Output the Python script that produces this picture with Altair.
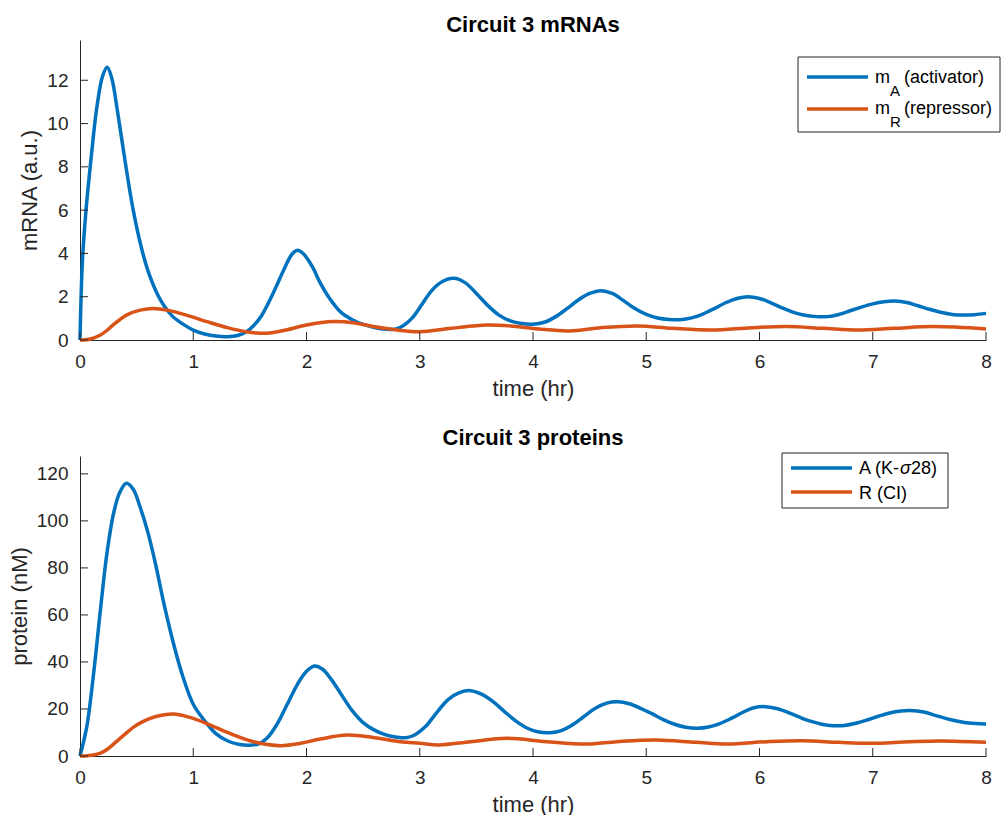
import altair as alt
import pandas as pd

# ---------------- data ----------------
mA_t = [0, 0.02, 0.05, 0.1, 0.15, 0.2, 0.24, 0.28, 0.33, 0.4, 0.47, 0.55, 0.62, 0.71, 0.82,
        0.92, 1.0, 1.1, 1.2, 1.3, 1.4, 1.47, 1.53, 1.6, 1.7, 1.8, 1.87, 1.92, 1.97, 2.05,
        2.12, 2.2, 2.3, 2.4, 2.5, 2.6, 2.7, 2.78, 2.85, 2.93, 3.02, 3.1, 3.2, 3.3, 3.4,
        3.5, 3.6, 3.7, 3.8, 3.9, 4.0, 4.1, 4.2, 4.3, 4.4, 4.5, 4.6, 4.7, 4.8, 4.9,
        5.0, 5.1, 5.2, 5.3, 5.4, 5.5, 5.6, 5.7, 5.8, 5.9, 6.0, 6.1, 6.2, 6.3, 6.4,
        6.5, 6.6, 6.7, 6.8, 6.9, 7.0, 7.1, 7.2, 7.3, 7.4, 7.5, 7.6, 7.7, 7.8, 7.9, 8.0]
mA_v = [0, 3.5, 5.8, 8.5, 10.8, 12.2, 12.6, 12.1, 10.6, 8.2, 6.0, 4.1, 2.9, 1.85, 1.08,
        0.7, 0.46, 0.28, 0.18, 0.15, 0.22, 0.38, 0.65, 1.1, 2.1, 3.25, 3.95, 4.15, 4.0, 3.4,
        2.65, 1.95, 1.3, 0.95, 0.72, 0.58, 0.5, 0.5, 0.65, 1.0, 1.65, 2.25, 2.7, 2.85, 2.65,
        2.15, 1.6, 1.15, 0.88, 0.76, 0.73, 0.82, 1.08, 1.45, 1.85, 2.15, 2.28, 2.15, 1.82, 1.45,
        1.18, 1.02, 0.95, 0.94, 1.02, 1.2, 1.45, 1.72, 1.92, 2.0, 1.92, 1.72, 1.48, 1.28, 1.14,
        1.08, 1.08, 1.18, 1.35, 1.52, 1.67, 1.77, 1.8, 1.73, 1.58, 1.42, 1.28, 1.18, 1.15, 1.17, 1.23]

mR_t = [0, 0.05, 0.1, 0.18, 0.24, 0.29, 0.35, 0.41, 0.53, 0.65, 0.77, 0.94, 1.12, 1.3, 1.47,
        1.65, 1.82, 2.0, 2.24, 2.41, 2.59, 2.8, 3.0, 3.28, 3.59, 3.8, 4.05, 4.32, 4.6, 4.92,
        5.23, 5.58, 5.93, 6.24, 6.56, 6.87, 7.19, 7.54, 8.0]
mR_v = [0, 0.01, 0.06, 0.23, 0.45, 0.69, 0.93, 1.15, 1.38, 1.46, 1.38, 1.15, 0.85, 0.57, 0.38,
        0.31, 0.46, 0.69, 0.85, 0.8, 0.62, 0.46, 0.38, 0.54, 0.69, 0.65, 0.51, 0.42, 0.57, 0.65,
        0.54, 0.46, 0.57, 0.62, 0.54, 0.46, 0.54, 0.62, 0.51]

A_t = [0, 0.06, 0.12, 0.18, 0.24, 0.3, 0.35, 0.41, 0.47, 0.53, 0.6, 0.67, 0.74, 0.83, 0.91,
       1.0, 1.1, 1.2, 1.3, 1.4, 1.5, 1.58, 1.65, 1.74, 1.83, 1.92, 2.0, 2.07, 2.14, 2.22,
       2.3, 2.4, 2.5, 2.6, 2.7, 2.8, 2.88, 2.95, 3.05, 3.15, 3.25, 3.35, 3.45, 3.55, 3.65,
       3.75, 3.85, 3.95, 4.05, 4.15, 4.25, 4.35, 4.45, 4.55, 4.65, 4.75, 4.85, 4.95, 5.05, 5.15,
       5.25, 5.35, 5.45, 5.55, 5.65, 5.75, 5.85, 5.95, 6.05, 6.15, 6.25, 6.35, 6.45, 6.55, 6.65,
       6.75, 6.85, 6.95, 7.05, 7.15, 7.25, 7.33, 7.45, 7.55, 7.65, 7.75, 7.85, 8.0]
A_v = [0, 12.5, 35, 62, 87, 104, 112, 116, 113.5, 106, 95, 81, 65, 47, 33.5,
       22, 15, 9.5, 6.5, 5.0, 4.6, 5.2, 7.5, 13.5, 22, 30.5, 36, 38.3, 37, 32.5,
       26.7, 19.5, 14.2, 11, 9, 8, 7.8, 8.8, 12.5, 18.5, 24, 27, 27.8, 26.2, 23,
       18.8, 14.8, 11.8, 10.2, 9.9, 10.8, 13.3, 16.8, 20.3, 22.5, 23.1, 22.2, 20.3, 18, 15.5,
       13.5, 12.2, 11.8, 12.3, 13.8, 16, 18.5, 20.5, 21, 20.2, 18.6, 16.6, 14.8, 13.5, 12.9,
       13, 13.9, 15.3, 16.9, 18.3, 19.1, 19.3, 18.7, 17.3, 15.9, 14.8, 14.0, 13.6]

R_t = [0, 0.05, 0.1, 0.18, 0.25, 0.32, 0.4, 0.47, 0.55, 0.62, 0.72, 0.83, 1.0, 1.18, 1.36,
       1.53, 1.77, 1.95, 2.12, 2.36, 2.6, 2.83, 3.0, 3.17, 3.45, 3.77, 4.12, 4.47, 4.74, 5.09,
       5.44, 5.72, 6.07, 6.38, 6.7, 6.98, 7.33, 7.61, 8.0]
R_v = [0, 0.05, 0.3, 1.2, 3.2, 6.1, 9.4, 12.2, 14.5, 16, 17.3, 17.9, 16, 12.5, 8.9,
       6.1, 4.4, 5.4, 7.2, 8.9, 7.8, 6.1, 5.4, 4.7, 6.1, 7.5, 6.1, 5.1, 6.1, 6.8,
       5.8, 5.1, 6.1, 6.5, 5.8, 5.4, 6.1, 6.4, 5.8]

x_ticks = [0, 1, 2, 3, 4, 5, 6, 7, 8]
top_y_ticks = [0, 2, 4, 6, 8, 10, 12]
bot_y_ticks = [0, 20, 40, 60, 80, 100, 120]
top_series = ["mA", "mR"]
bot_series = ["A", "R"]
colors = ["#0072BD", "#D95319"]

FONT = "Liberation Sans"
AX = "#262626"
W, H = 906, 300


def frame(t, v, name):
    return pd.DataFrame({"t": t, "v": v, "series": name})


top_df = pd.concat([frame(mA_t, mA_v, "mA"), frame(mR_t, mR_v, "mR")], ignore_index=True)
bot_df = pd.concat([frame(A_t, A_v, "A"), frame(R_t, R_v, "R")], ignore_index=True)
dummy = pd.DataFrame({"k": [0]})


def panel(df, series, ymax, yticks, ytitle, title, legend_layers):
    x_axis = alt.Axis(values=x_ticks, title="time (hr)", labelFlush=False,
                      labelPadding=12, titlePadding=7)
    y_axis = alt.Axis(values=yticks, title=ytitle, labelFlush=False,
                      labelPadding=12, titlePadding=5)
    xs = alt.Scale(domain=[0, 8], nice=False)
    ys = alt.Scale(domain=[0, ymax], nice=False)
    lines = alt.Chart(df).mark_line(strokeWidth=3.5, interpolate="catmull-rom").encode(
        x=alt.X("t:Q", scale=xs, axis=x_axis),
        y=alt.Y("v:Q", scale=ys, axis=y_axis),
        color=alt.Color("series:N", scale=alt.Scale(domain=series, range=colors), legend=None),
    )
    xt = alt.Chart(pd.DataFrame({"t": x_ticks})).mark_rule(color=AX, strokeWidth=1).encode(
        x=alt.X("t:Q", scale=xs, axis=x_axis), y=alt.value(H), y2=alt.value(H - 8))
    yt = alt.Chart(pd.DataFrame({"v": yticks})).mark_rule(color=AX, strokeWidth=1).encode(
        y=alt.Y("v:Q", scale=ys, axis=y_axis), x=alt.value(0), x2=alt.value(8))
    return alt.layer(lines, xt, yt, *legend_layers).properties(
        width=W, height=H,
        title=alt.TitleParams(title, fontSize=22, fontWeight="bold", font=FONT,
                              anchor="middle", frame="group", offset=3, color="black"))


def box(x0, x1, y0, y1):
    return alt.Chart(dummy).mark_rect(fill="white", stroke=AX, strokeWidth=1).encode(
        x=alt.value(x0), x2=alt.value(x1), y=alt.value(y0), y2=alt.value(y1))


def sample(x0, x1, y, c):
    return alt.Chart(dummy).mark_rule(color=c, strokeWidth=3.5).encode(
        x=alt.value(x0), x2=alt.value(x1), y=alt.value(y))


def txt(s, x, y, size=18, style="normal"):
    return alt.Chart(dummy).mark_text(text=s, font=FONT, fontSize=size, fontStyle=style,
                                      align="left", baseline="alphabetic", color="black").encode(
        x=alt.value(x), y=alt.value(y))


top_legend = [
    box(718, 920, 17, 92),
    sample(727, 788, 37, colors[0]),
    sample(727, 788, 69, colors[1]),
    txt("m", 795, 43), txt("A", 810, 56, 15), txt("(activator)", 824, 43),
    txt("m", 795, 74), txt("R", 810, 87, 15), txt("(repressor)", 824, 74),
]
bot_legend = [
    box(702, 868, -3, 52),
    sample(711, 772, 12, colors[0]),
    sample(711, 772, 36, colors[1]),
    txt("A (K-", 779, 18), txt("σ", 820, 18, 18, "italic"), txt("28)", 831, 18),
    txt("R (CI)", 779, 43),
]

top = panel(top_df, top_series, 13.86, top_y_ticks, "mRNA (a.u.)", "Circuit 3 mRNAs", top_legend)
bot = panel(bot_df, bot_series, 127.6, bot_y_ticks, "protein (nM)", "Circuit 3 proteins", bot_legend)

chart = alt.vconcat(top, bot, spacing=27).properties(
    padding={"left": 8, "top": 14, "right": 0, "bottom": 0}
).configure_view(stroke=None).configure_axis(
    domainColor=AX, domainWidth=1, labelColor=AX, labelFont=FONT, labelFontSize=19,
    titleFont=FONT, titleFontSize=22, titleFontWeight="normal", titleColor=AX,
    ticks=False, tickSize=0, grid=False,
)

chart.save("out.html", embed_options={"renderer": "svg", "actions": False})
